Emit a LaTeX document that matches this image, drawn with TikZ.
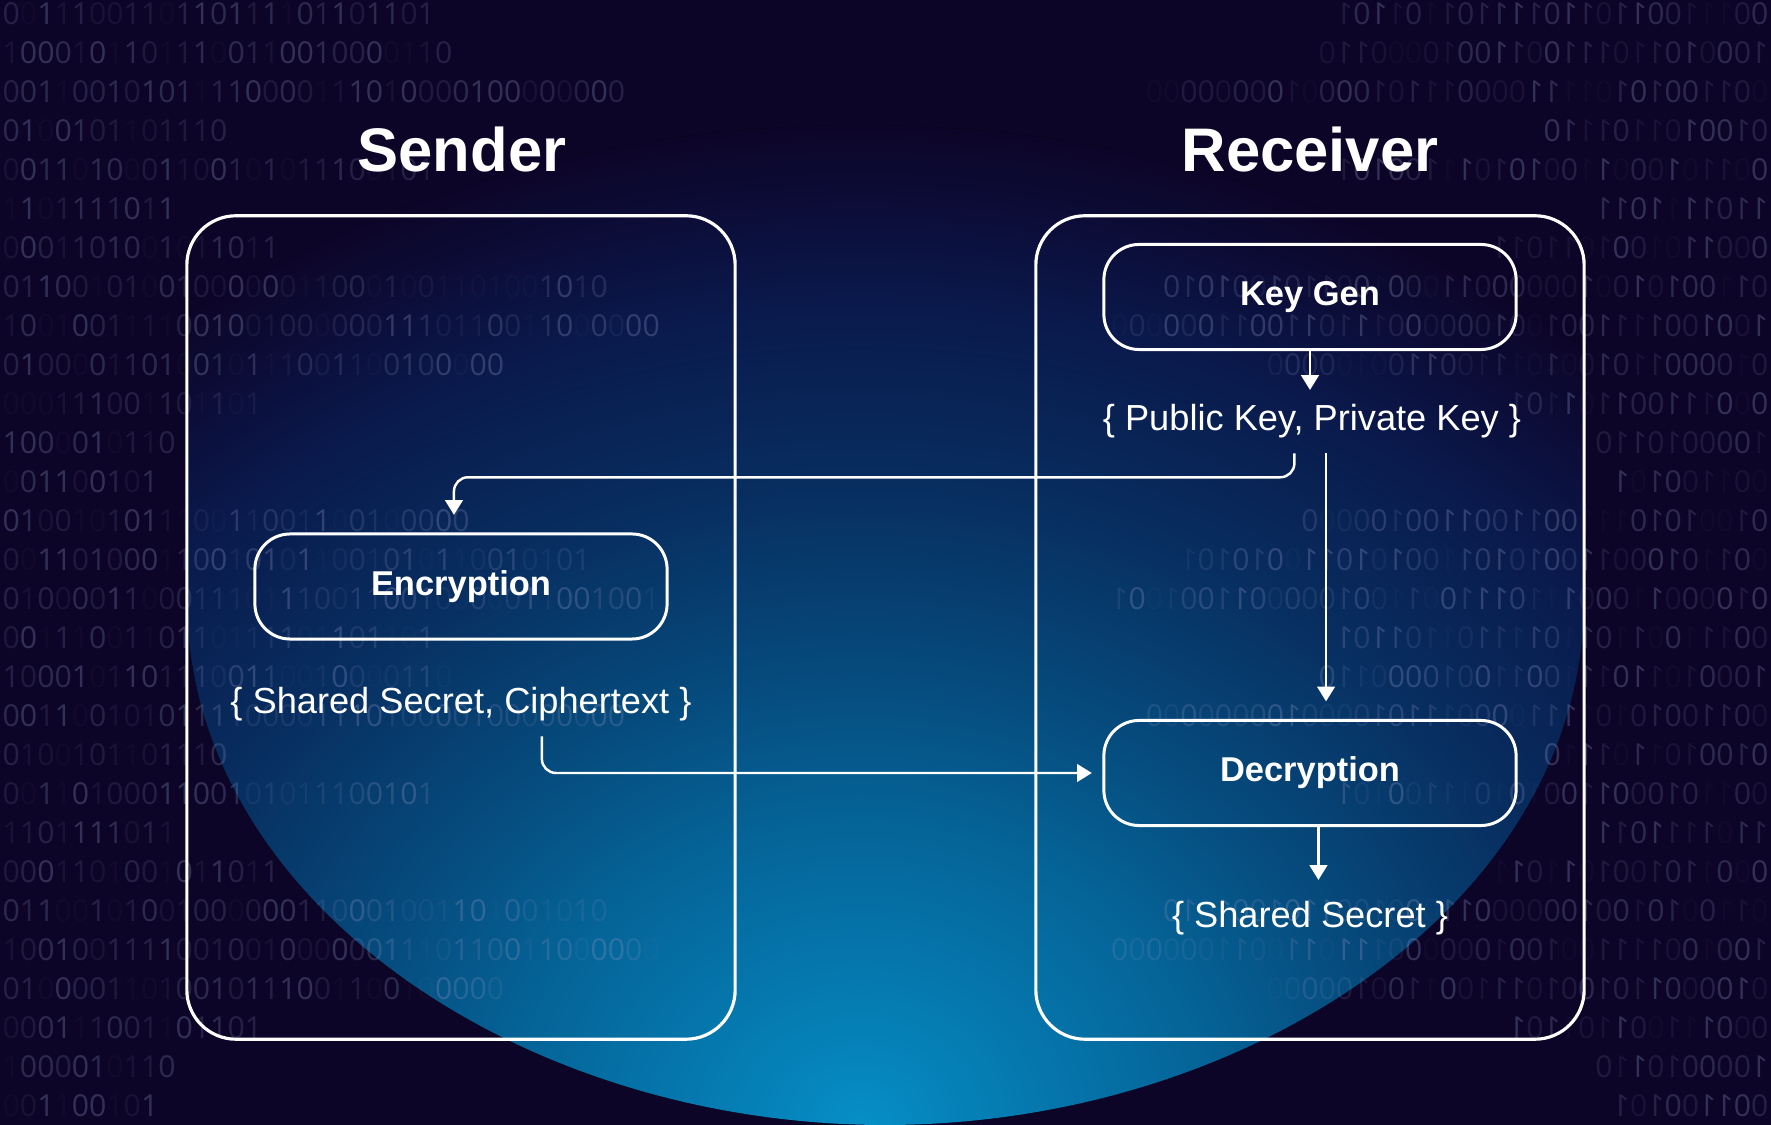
\documentclass[tikz,border=0pt]{standalone}
\usepackage{fontspec}
\setmainfont{Liberation Sans}
\newfontfamily\bitfont{Open Sans}
\usetikzlibrary{arrows.meta}

\definecolor{navy}{RGB}{13,5,40}
\definecolor{glowA}{RGB}{6,143,198}
\definecolor{glowB}{RGB}{5,130,185}
\definecolor{glowC}{RGB}{5,100,152}
\definecolor{glowD}{RGB}{6,75,125}
\definecolor{glowE}{RGB}{8,45,95}
\definecolor{glowF}{RGB}{10,25,75}
\definecolor{glowG}{RGB}{12,12,55}
\definecolor{bitgray}{RGB}{135,145,190}

% radial glow; the ellipse edge sits at 25bp
\pgfdeclareradialshading{glow}{\pgfpoint{0bp}{0bp}}{%
  color(0bp)=(glowA); color(2bp)=(glowB); color(7.5bp)=(glowC); color(11.25bp)=(glowD);
  color(16.1bp)=(glowE); color(20.6bp)=(glowF); color(23.1bp)=(glowG);
  color(25bp)=(navy); color(50bp)=(navy)}

% one row of faint bits, each bit with its own opacity
\newcommand\bitrow[1]{\expandafter\bitstep#1\relax}
\def\bitstep#1{\ifx\relax#1\else\bitchar{#1}\expandafter\bitstep\fi}
\newcommand\bitchar[1]{\pgfmathsetmacro\bitop{0.04+0.055*random(0,5)}\pgfsetfillopacity{\bitop}#1}

\tikzset{
  title/.style={font=\bfseries\fontsize{17.5}{21}\selectfont, text=white, anchor=base},
  outerbox/.style={draw=white, line width=0.9pt, rounded corners=14pt,
    minimum width=5.48cm, minimum height=8.23cm},
  stepbox/.style={draw=white, line width=0.85pt, rounded corners=10pt,
    minimum width=4.12cm, minimum height=1.05cm,
    font=\bfseries\fontsize{9.8}{12}\selectfont, text=white},
  keyset/.style={font=\fontsize{10.3}{12}\selectfont, text=white, inner sep=4pt, anchor=base},
  arr/.style={draw=white, line width=0.7pt, -{Triangle[width=5pt,length=4.2pt]}},
  bits/.style={font=\bitfont\fontsize{8.6}{10}\selectfont, text=bitgray, inner sep=0pt, anchor=west},
}

\begin{document}
\begin{tikzpicture}[x=0.01cm, y=-0.01cm]
    % Background and glow from below, kept between the outer box edges
    \path[use as bounding box, fill=navy] (0,0) rectangle (1771,1125);
    \begin{scope}
        \clip (187,-10) -- (187,600) .. controls (187,900) and (520,1125) .. (885,1125)
            .. controls (1250,1125) and (1584,900) .. (1584,600) -- (1584,-10) -- cycle;
        \fill[shading=glow] (860,1125) ellipse [x radius=1150, y radius=1000];
    \end{scope}

    % Faint bits, mirrored on the right
    \pgfmathsetseed{31}
    \foreach \bitstr [count=\k from 0] in {
        0011100110110111101101101, 10001011011100110010000110,
        001100101011110000111010000100000000, 0100101101110,
        0011010001100101011100101, 1101111011, 0001101001011011,
        01100101001000000110001001101001010, 10010011110010010000001110110011000000,
        01000011010010111001100100000, 000111001101101, 1000010110, 001100101,
        010010101110011001100100000, 0011010001100101011001010110010101,
        01000011000111011100110010000011001001,
        0011100110110111101101101, 10001011011100110010000110,
        001100101011110000111010000100000000, 0100101101110,
        0011010001100101011100101, 1101111011, 0001101001011011,
        01100101001000000110001001101001010, 10010011110010010000001110110011000000,
        01000011010010111001100100000, 000111001101101, 1000010110, 001100101} {
        \pgfmathsetmacro\yy{13.5+39*\k}
        \node[bits] (bitL\k) at (2,\yy) {\bitrow{\bitstr}};
        \node[bits, xscale=-1, transform shape] (bitR\k) at (1769,\yy) {\bitrow{\bitstr}};
    }

    % Titles
    \node[title] (sender) at (462,172) {Sender};
    \node[title] (receiver) at (1310,172) {Receiver};

    % Outer boxes
    \node[outerbox] (senderbox) at (461,627.5) {};
    \node[outerbox] (receiverbox) at (1310,627.5) {};

    % Steps
    \node[stepbox] (keygen) at (1310,297) {Key Gen};
    \node[stepbox] (enc) at (461,586.5) {Encryption};
    \node[stepbox] (dec) at (1310,773) {Decryption};

    % Key sets
    \node[keyset] (pk) at (1312,431) {\{ Public Key, Private Key \}};
    \node[keyset] (ssct) at (461,714) {\{ Shared Secret, Ciphertext \}};
    \node[keyset] (ss) at (1310,928) {\{ Shared Secret \}};

    % Arrows
    \draw[arr] (keygen.south) -- (keygen.south |- pk.north);
    \draw[arr, rounded corners=4pt] ([xshift=-5pt]pk.south) -- ++(0,24)
        -| ([xshift=-2pt,yshift=5pt]enc.north);
    \draw[arr, shorten >=5pt] ([xshift=4pt]pk.south) -- ([xshift=4pt]pk.south |- dec.north);
    \draw[arr, rounded corners=4pt, shorten >=3pt] ([xshift=23pt]ssct.south) |- (dec.west);
    \draw[arr, shorten >=2pt] ([xshift=2.4pt]dec.south) -- ([xshift=2.4pt]dec.south |- ss.north);
\end{tikzpicture}
\end{document}
